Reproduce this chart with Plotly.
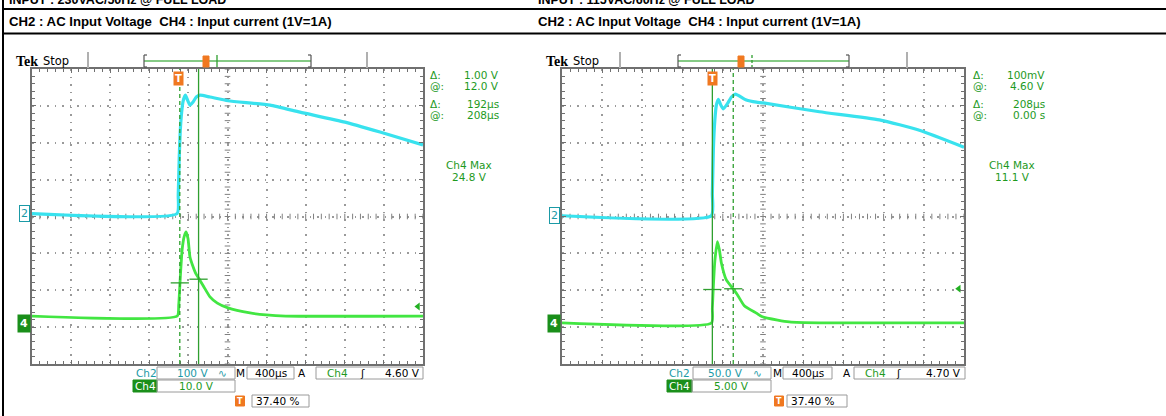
import numpy as np
import plotly.graph_objects as go

W, H = 1166, 416

# ---------------- data ----------------
header_top = ["INPUT : 230VAC/50Hz @ FULL LOAD", "INPUT : 115VAC/60Hz @ FULL LOAD"]
header_main = "CH2 : AC Input Voltage  CH4 : Input current (1V=1A)"

time_per_div_us = 400
trigger_pos_pct = 37.40

# panel 1
p1_t_ch2 = [-1496, -12, 0, 10, 20, 35, 50, 73, 95, 121, 150, 185, 223, 325, 509, 939, 1246, 1706, 2064, 2504]
p1_v_ch2 = [0, 0, 50, 150, 220, 275, 305, 321, 308, 294, 302, 316, 321, 316, 306, 294, 275, 248, 221, 186]
p1_t_ch4 = [-1496, -10, 5, 20, 40, 60, 80, 100, 120, 150, 180, 213, 260, 325, 400, 509, 734, 900, 1100, 2504]
p1_v_ch4 = [2.0, 2.0, 5, 12, 20, 23.5, 24.8, 23, 18.0, 15.5, 13.5, 12.1, 10, 7.2, 5.5, 4.2, 2.85, 2.3, 2.0, 2.0]
p1_ch2_vdiv, p1_ch4_vdiv = 100, 10
p1_cursor_t = {"solid": 208, "dashed": 16}
p1_cursor_v = {"solid": 12.0, "dashed": 11.0}
p1_trig_level = 4.60
p1_readout = ["1.00 V", "12.0 V", "192µs", "208µs"]
p1_max = "24.8 V"
p1_bottom = {"ch2": "100 V", "ch4": "10.0 V", "time": "400µs", "trig": "4.60 V", "pos": "37.40 %"}

# panel 2
p2_t_ch2 = [-1496, -10, 0, 10, 25, 40, 60, 85, 109, 150, 190, 229, 338, 438, 507, 1065, 1662, 2060, 2504]
p2_v_ch2 = [0, 0, 30, 89, 130, 150, 158, 150, 145, 152, 161, 165, 157, 154, 153, 141, 130, 116, 93]
p2_t_ch4 = [-1496, -8, 0, 10, 25, 50, 70, 90, 139, 209, 249, 318, 438, 498, 650, 766, 1065, 2504]
p2_v_ch4 = [0.07, 0.07, 2.0, 5.0, 8.5, 11.1, 10.0, 8.2, 5.9, 4.66, 3.9, 2.4, 1.4, 0.9, 0.45, 0.2, 0.07, 0.07]
p2_ch2_vdiv, p2_ch4_vdiv = 50, 5
p2_cursor_t = {"solid": 0, "dashed": 208}
p2_cursor_v = {"solid": 4.60, "dashed": 4.70}
p2_trig_level = 4.70
p2_readout = ["100mV", "4.60 V", "208µs", "0.00 s"]
p2_max = "11.1 V"
p2_bottom = {"ch2": "50.0 V", "ch4": "5.00 V", "time": "400µs", "trig": "4.70 V", "pos": "37.40 %"}

# ---------------- style ----------------
C_CH2 = "#38e2ee"
C_CH4 = "#42e642"
C_CUR = "#2f9f2f"
C_TXT = "#1e9a1e"
C_TEAL = "#1b9aa6"
C_GRID = "#9a9a9a"
C_FRAME = "#707070"
C_ORANGE = "#f07820"
FONT = "DejaVu Sans"
RO_SIZE = 10.5

t0 = -trigger_pos_pct / 100 * 10 * time_per_div_us
t1 = t0 + 10 * time_per_div_us
GY0, GY1 = 69, 364

panels = [
    dict(gx0=32, gx1=423, off=0, t2=p1_t_ch2, v2=p1_v_ch2, t4=p1_t_ch4, v4=p1_v_ch4,
         d2=p1_ch2_vdiv, d4=p1_ch4_vdiv, z2=0.08, z4=-2.9, ct=p1_cursor_t, cv=p1_cursor_v,
         trig=p1_trig_level, ro=p1_readout, mx=p1_max, bt=p1_bottom),
    dict(gx0=562, gx1=964, off=530, t2=p2_t_ch2, v2=p2_v_ch2, t4=p2_t_ch4, v4=p2_v_ch4,
         d2=p2_ch2_vdiv, d4=p2_ch4_vdiv, z2=0.02, z4=-2.9, ct=p2_cursor_t, cv=p2_cursor_v,
         trig=p2_trig_level, ro=p2_readout, mx=p2_max, bt=p2_bottom),
]

fig = go.Figure()
shapes, anns = [], []


def px(x):
    return x / W


def py(y):
    return 1 - y / H


def A(x, y, text, color=C_TXT, size=RO_SIZE, xanchor="left", family=FONT, **kw):
    anns.append(dict(x=px(x), y=py(y), xref="paper", yref="paper", text=text, showarrow=False,
                     xanchor=xanchor, yanchor="middle", borderpad=0,
                     font=dict(color=color, size=size, family=family), **kw))


def L(x0, y0, x1, y1, color="black", width=1, dash=None):
    d = dict(type="line", xref="paper", yref="paper", x0=px(x0), y0=py(y0), x1=px(x1), y1=py(y1),
             line=dict(color=color, width=width), layer="above")
    if dash:
        d["line"]["dash"] = dash
    shapes.append(d)


def R(x0, y0, x1, y1, color="#9a9a9a", fill="rgba(0,0,0,0)", width=1):
    shapes.append(dict(type="rect", xref="paper", yref="paper", x0=px(x0), y0=py(y0), x1=px(x1), y1=py(y1),
                       line=dict(color=color, width=width), fillcolor=fill, layer="above"))


# page frame + headers
L(3, 0, 3, H, "black", 2)
L(2, 9, W, 9, "black", 2)
L(2, 33.5, W, 33.5, "black", 2)
for i, x in enumerate([8, 537]):
    A(x, 0, "<b>" + header_top[i] + "</b>", "black", 12.5, family="Liberation Sans")
    A(x, 21.5, "<b>" + header_main + "</b>", "black", 13.2, family="Liberation Sans")

layout_axes = {}
for i, p in enumerate(panels):
    xa = "xaxis" if i == 0 else "xaxis2"
    xs = "x" if i == 0 else "x2"
    ya_main = "yaxis" if i == 0 else "yaxis3"
    ys_main = "y" if i == 0 else "y3"
    ya_ch4 = "yaxis2" if i == 0 else "yaxis4"
    ys_ch4 = "y2" if i == 0 else "y4"
    r2 = [(-4 - p["z2"]) * p["d2"], (4 - p["z2"]) * p["d2"]]
    r4 = [(-4 - p["z4"]) * p["d4"], (4 - p["z4"]) * p["d4"]]
    common = dict(showgrid=True, gridcolor=C_GRID, griddash="1.5px,6px", gridwidth=1.5,
                  zeroline=False, showticklabels=False, showline=True, linecolor=C_FRAME,
                  linewidth=2, mirror="ticks", ticks="inside", ticklen=4, tickcolor=C_FRAME)
    layout_axes[xa] = dict(domain=[px(p["gx0"]), px(p["gx1"])], range=[t0, t1], anchor=ys_main,
                           tick0=t0, dtick=time_per_div_us,
                           minor=dict(tick0=t0, dtick=time_per_div_us / 5, ticks="inside", ticklen=3,
                                      tickcolor=C_FRAME, showgrid=False), **common)
    layout_axes[ya_main] = dict(domain=[py(GY1), py(GY0)], range=r2, anchor=xs,
                                tick0=r2[0], dtick=p["d2"],
                                minor=dict(tick0=r2[0], dtick=p["d2"] / 5, ticks="inside", ticklen=3,
                                           tickcolor=C_FRAME, showgrid=False), **common)
    layout_axes[ya_ch4] = dict(overlaying=ys_main, range=r4, anchor=xs, visible=False)

    # centre cross ticks
    tc = (t0 + t1) / 2
    vc = (r2[0] + r2[1]) / 2
    fig.add_trace(go.Scatter(x=np.arange(t0, t1 + 1e-6, time_per_div_us / 5), y=[vc] * 51,
                             mode="markers", xaxis=xs, yaxis=ys_main, hoverinfo="skip",
                             marker=dict(symbol="line-ns", size=4, line=dict(color="#808080", width=1))))
    fig.add_trace(go.Scatter(x=[tc] * 41, y=np.arange(r2[0], r2[1] + 1e-6, p["d2"] / 5),
                             mode="markers", xaxis=xs, yaxis=ys_main, hoverinfo="skip",
                             marker=dict(symbol="line-ew", size=4, line=dict(color="#808080", width=1))))

    # waveforms
    fig.add_trace(go.Scatter(x=p["t2"], y=p["v2"], mode="lines", xaxis=xs, yaxis=ys_main,
                             line=dict(color=C_CH2, width=3.2, shape="spline", smoothing=0.5)))
    fig.add_trace(go.Scatter(x=p["t4"], y=p["v4"], mode="lines", xaxis=xs, yaxis=ys_ch4,
                             line=dict(color=C_CH4, width=2.8, shape="spline", smoothing=0.5)))

    # cursors
    for kind in ["solid", "dashed"]:
        shapes.append(dict(type="line", xref=xs, yref=ys_main + " domain", x0=p["ct"][kind], x1=p["ct"][kind],
                           y0=0, y1=1, layer="above",
                           line=dict(color=C_CUR, width=1.3, dash=None if kind == "solid" else "4px,3px")))
    fig.add_trace(go.Scatter(x=[p["ct"]["solid"], p["ct"]["dashed"]], y=[p["cv"]["solid"], p["cv"]["dashed"]],
                             mode="markers", xaxis=xs, yaxis=ys_ch4, hoverinfo="skip",
                             marker=dict(symbol="line-ew", size=13, line=dict(color=C_CUR, width=1.3))))
    # trigger level arrow
    fig.add_trace(go.Scatter(x=[t1 - 0.13 * time_per_div_us], y=[p["trig"]], mode="markers",
                             xaxis=xs, yaxis=ys_ch4, hoverinfo="skip",
                             marker=dict(symbol="triangle-left", size=7, color="#22b022")))
    # trigger T marker at top
    anns.append(dict(x=0, y=py(78), xref=xs, yref="paper", text="<b>T</b>", showarrow=False,
                     xanchor="center", yanchor="middle", bgcolor=C_ORANGE, borderpad=1,
                     font=dict(color="white", size=10, family=FONT)))

    o = p["off"]
    g0 = p["gx0"]
    # channel markers
    z2_px = (GY0 + GY1) / 2 - p["z2"] * (GY1 - GY0) / 8
    z4_px = (GY0 + GY1) / 2 - p["z4"] * (GY1 - GY0) / 8
    anns.append(dict(x=px(g0 - 8), y=py(z2_px), xref="paper", yref="paper", text="2", showarrow=False,
                     xanchor="center", yanchor="middle", bgcolor="white", bordercolor=C_TEAL, borderwidth=1,
                     borderpad=1, font=dict(color=C_TEAL, size=11, family=FONT)))
    anns.append(dict(x=px(g0 - 8), y=py(z4_px), xref="paper", yref="paper", text="<b>4</b>", showarrow=False,
                     xanchor="center", yanchor="middle", bgcolor="#1a8f1a", borderpad=2,
                     font=dict(color="white", size=11, family=FONT)))

    # top record bar
    A(15 + o, 61, "<b>Tek</b>", "black", 14, family="Liberation Serif")
    A(42 + o, 61, "Stop", "black", 11.5)
    L(88 + o + (2 if i else 0), 52, 88 + o + (2 if i else 0), 68, "#b0b0b0", 2)
    bx0, bx1 = (144, 311) if i == 0 else (678 - o, 849 - o)
    L(bx0 + o, 61, bx1 + o, 61, "#5db85d", 1.5)
    L(bx0 + o, 55, bx0 + o, 67, "#555", 1.2)
    L(bx0 + o, 55, bx0 + o + 3, 55, "#555", 1.2)
    L(bx0 + o, 67, bx0 + o + 3, 67, "#555", 1.2)
    L(bx1 + o, 55, bx1 + o, 67, "#555", 1.2)
    L(bx1 + o - 3, 55, bx1 + o, 55, "#555", 1.2)
    L(bx1 + o - 3, 67, bx1 + o, 67, "#555", 1.2)
    gr = 367 + o if i == 0 else 907
    L(gr, 52, gr, 68, "#b0b0b0", 2)
    om = 206 + o if i == 0 else 741
    R(om - 3, 56, om + 3, 67, C_ORANGE, C_ORANGE, 1)
    gt = 217 + o if i == 0 else 752
    L(gt, 55, gt, 67, C_CUR, 1.3, None if i == 0 else "3px,2px")

    # right readouts
    rx0 = 429 if i == 0 else 972
    rx1 = 500 if i == 0 else 1046
    for j, (lab, yy) in enumerate(zip(["Δ:", "@:", "Δ:", "@:"], [75, 86, 104, 115])):
        A(rx0, yy, lab)
        A(rx1, yy, p["ro"][j], xanchor="right")
    mc = 469 if i == 0 else 1012
    A(mc, 165, "Ch4 Max", xanchor="center")
    A(mc, 177, p["mx"], xanchor="center")

    # bottom readouts
    b = p["bt"]
    if i == 0:
        pos = dict(ch2=135, b1=(157, 235), v1=176, wave=222, M=240, b2=(247, 294), A=302, b3=(316, 423),
                   c4=337, edge=362, tl=421, g=(133, 157), tic=240, b4=(252, 309))
    else:
        pos = dict(ch2=668, b1=(693, 771), v1=707, wave=757, M=777, b2=(783, 832), A=847, b3=(854, 965),
                   c4=875, edge=898, tl=962, g=(667, 692), tic=779, b4=(787, 847))
    A(pos["ch2"], 373, "Ch2", C_TEAL)
    R(pos["b1"][0], 367, pos["b1"][1], 379)
    A(pos["v1"], 373, b["ch2"], C_TEAL)
    A(pos["wave"], 373, "∿", C_TEAL, xanchor="center")
    A(pos["M"], 373, "M", "black", xanchor="center")
    R(pos["b2"][0], 367, pos["b2"][1], 379)
    A((pos["b2"][0] + pos["b2"][1]) / 2, 373, b["time"], "black", xanchor="center")
    A(pos["A"], 373, "A", "black", xanchor="center")
    R(pos["b3"][0], 367, pos["b3"][1], 379)
    A(pos["c4"], 373, "Ch4", C_TXT, xanchor="center")
    A(pos["edge"], 373, "ʃ", "black", xanchor="center")
    A(pos["tl"], 373, b["trig"], "black", xanchor="right")
    R(pos["g"][0], 380, pos["g"][1], 392, "#1a8f1a", "#1a8f1a")
    A((pos["g"][0] + pos["g"][1]) / 2, 386, "Ch4", "white", xanchor="center")
    R(pos["g"][1], 380, pos["b1"][1], 392)
    A((pos["g"][1] + pos["b1"][1]) / 2, 386, b["ch4"], C_TXT, xanchor="center")
    R(pos["tic"] - 4.5, 396, pos["tic"] + 4.5, 406, C_ORANGE, C_ORANGE)
    A(pos["tic"], 401, "<b>T</b>", "white", 8, xanchor="center")
    R(pos["b4"][0], 395, pos["b4"][1], 407)
    A(pos["b4"][0] + 3, 401, b["pos"], "black")

fig.update_layout(
    width=W, height=H, margin=dict(l=0, r=0, t=0, b=0),
    paper_bgcolor="white", plot_bgcolor="white", showlegend=False,
    shapes=shapes, annotations=anns, **layout_axes,
)
fig.write_html("out.html", config={"displayModeBar": False},
               post_script="document.body.style.margin='0px';")
